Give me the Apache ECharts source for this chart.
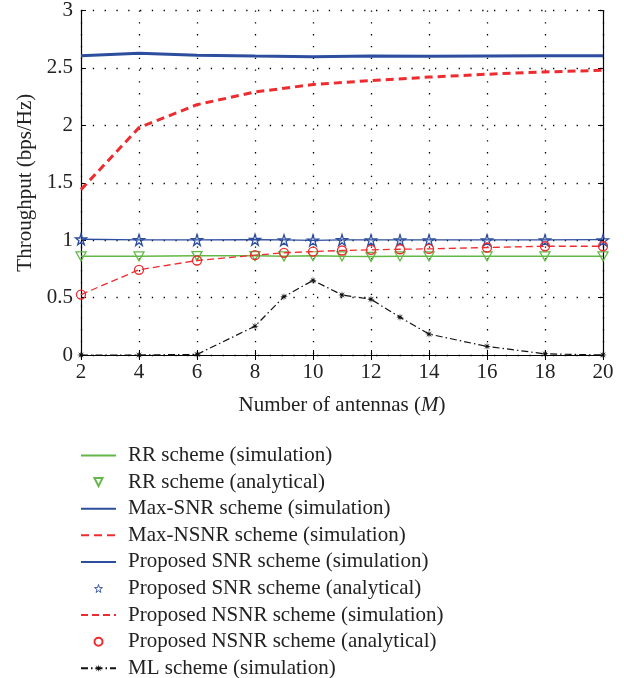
<!DOCTYPE html>
<html>
<head>
<meta charset="utf-8">
<script src="https://cdn.jsdelivr.net/npm/echarts@6/dist/echarts.min.js"></script>
<style>html,body{margin:0;padding:0;background:#fff;}#c{width:624px;height:678px;}</style>
</head>
<body>
<div id="c"></div>
<script>
// ---- data ----
var xTicks = [2, 4, 6, 8, 10, 12, 14, 16, 18, 20];
var yTicks = [0, 0.5, 1, 1.5, 2, 2.5, 3];
var xMarks = [2, 4, 6, 8, 9, 10, 11, 12, 13, 14, 16, 18, 20];
var xEven = [2, 4, 6, 8, 10, 12, 14, 16, 18, 20];

var rrSim        = [0.86, 0.86, 0.865, 0.865, 0.86, 0.865, 0.86, 0.857, 0.86, 0.86, 0.86, 0.86, 0.86];
var rrAna        = [0.858, 0.858, 0.862, 0.862, 0.858, 0.86, 0.858, 0.855, 0.858, 0.858, 0.858, 0.858, 0.858];
var maxSnrSim    = [2.607, 2.627, 2.611, 2.603, 2.598, 2.603, 2.601, 2.604, 2.605, 2.606];
var maxNsnrSim   = [1.44, 1.98, 2.18, 2.29, 2.355, 2.39, 2.42, 2.445, 2.465, 2.48];
var propSnrSim   = [1.008, 1.003, 1.002, 1.005, 1.002, 0.999, 1.003, 1.002, 1.002, 1.003, 1.003, 1.003, 1.004];
var propSnrAna   = [1.008, 1.002, 1.002, 1.004, 1.0, 0.998, 1.002, 1.0, 1.0, 1.0, 1.0, 1.0, 1.0];
var propNsnrSim  = [0.526, 0.742, 0.823, 0.869, 0.89, 0.901, 0.91, 0.916, 0.921, 0.924, 0.936, 0.947, 0.947];
var propNsnrAna  = [0.526, 0.742, 0.823, 0.869, 0.89, 0.901, 0.91, 0.916, 0.921, 0.924, 0.936, 0.947, 0.947];
var mlSim        = [0.0, 0.0, 0.005, 0.251, 0.508, 0.65, 0.523, 0.485, 0.329, 0.182, 0.075, 0.01, 0.0];

var names = [
  'RR scheme (simulation)',
  'RR scheme (analytical)',
  'Max-SNR scheme (simulation)',
  'Max-NSNR scheme (simulation)',
  'Proposed SNR scheme (simulation)',
  'Proposed SNR scheme (analytical)',
  'Proposed NSNR scheme (simulation)',
  'Proposed NSNR scheme (analytical)',
  'ML scheme (simulation)'
];

function pairs(xs, ys) { return xs.map(function (x, i) { return [x, ys[i]]; }); }

// ---- styles ----
var GREEN = '#62B846', BLUE = '#2D4E9E', RED = '#EE2B2E', BLACK = '#111';
var CLEAR = 'rgba(255,255,255,0)';
var FONT = 'Liberation Serif';
var FS = 21;
var starPath = 'path://M50,0 L61,35 L98,35 L68,57 L79,91 L50,70 L21,91 L32,57 L2,35 L39,35 Z';
var triPath = 'path://M0,0 L10,0 L5,9 Z';
var ast = (function () {
  var p = [];
  for (var i = 0; i < 16; i++) {
    var a = i * Math.PI / 8 - Math.PI / 2;
    var r = (i % 2) ? 1.6 : 5;
    p.push((i ? 'L' : 'M') + (5 + r * Math.cos(a)).toFixed(2) + ',' + (5 + r * Math.sin(a)).toFixed(2));
  }
  return 'path://' + p.join(' ') + ' Z';
})();

var noLine = { opacity: 0, width: 0 };
var hiddenItem = { color: CLEAR, borderWidth: 0, opacity: 0 };

var legendData = names.map(function (n, i) {
  return i === 5 ? { name: n, itemStyle: { color: CLEAR, borderColor: BLUE, borderWidth: 0.9 } } : { name: n };
});

var chart = echarts.init(document.getElementById('c'), null, { renderer: 'canvas' });
chart.setOption({
  animation: false,
  backgroundColor: '#fff',
  textStyle: { fontFamily: FONT },
  grid: { left: 81, right: 21, top: 9, height: 346, containLabel: false },
  xAxis: [{
    type: 'value', min: 2, max: 20, interval: 2,
    name: 'Number of antennas ({i|M})', nameLocation: 'middle', nameGap: 40,
    nameTextStyle: { fontFamily: FONT, fontSize: FS, color: '#222', rich: { i: { fontFamily: FONT, fontSize: FS, fontStyle: 'italic', color: '#222' } } },
    axisLine: { lineStyle: { color: '#000', width: 1.2 } },
    axisTick: { inside: true, length: 5, lineStyle: { color: '#000' } },
    axisLabel: { fontFamily: FONT, fontSize: FS, color: '#222', margin: 7 },
    splitLine: { show: true, lineStyle: { color: '#000', width: 1.3, type: [1.3, 10.5] } }
  }, {
    type: 'value', min: 2, max: 20, interval: 2, position: 'top',
    axisLine: { show: true, lineStyle: { color: '#000', width: 1.2 } },
    axisTick: { inside: true, length: 5, lineStyle: { color: '#000' } },
    axisLabel: { show: false }, splitLine: { show: false }
  }],
  yAxis: [{
    type: 'value', min: 0, max: 3, interval: 0.5,
    name: 'Throughput (bps/Hz)', nameLocation: 'middle', nameGap: 43, nameRotate: 90,
    nameTextStyle: { fontFamily: FONT, fontSize: FS, color: '#222' },
    axisLine: { show: true, lineStyle: { color: '#000', width: 1.2 } },
    axisTick: { show: true, inside: true, length: 5, lineStyle: { color: '#000' } },
    axisLabel: { fontFamily: FONT, fontSize: FS, color: '#222', margin: 8 },
    splitLine: { show: true, lineStyle: { color: '#000', width: 1.3, type: [1.3, 10.5] } }
  }, {
    type: 'value', min: 0, max: 3, interval: 0.5, position: 'right',
    axisLine: { show: true, lineStyle: { color: '#000', width: 1.2 } },
    axisTick: { show: true, inside: true, length: 5, lineStyle: { color: '#000' } },
    axisLabel: { show: false }, splitLine: { show: false }
  }],
  legend: {
    orient: 'vertical', left: 75, top: 440, height: 238, width: 540,
    itemWidth: 35, itemHeight: 10, itemGap: 5.6,
    textStyle: { fontFamily: FONT, fontSize: FS, lineHeight: 21, color: '#222', padding: [0, 0, 0, 7] },
    data: legendData
  },
  series: [
    { name: names[0], type: 'line', data: pairs(xMarks, rrSim), symbol: 'none',
      lineStyle: { color: GREEN, width: 1.5 }, itemStyle: hiddenItem, z: 2 },
    { name: names[1], type: 'line', data: pairs(xMarks, rrAna), symbol: triPath, symbolSize: [10, 9],
      showSymbol: true, lineStyle: noLine,
      itemStyle: { color: CLEAR, borderColor: GREEN, borderWidth: 1.3 }, z: 3 },
    { name: names[2], type: 'line', data: pairs(xEven, maxSnrSim), symbol: 'none',
      lineStyle: { color: BLUE, width: 3 }, itemStyle: hiddenItem, z: 2 },
    { name: names[3], type: 'line', data: pairs(xEven, maxNsnrSim), symbol: 'none',
      lineStyle: { color: RED, width: 3, type: [8, 5] }, itemStyle: hiddenItem, z: 2 },
    { name: names[4], type: 'line', data: pairs(xMarks, propSnrSim), symbol: 'none',
      lineStyle: { color: BLUE, width: 1.3 }, itemStyle: hiddenItem, z: 4 },
    { name: names[5], type: 'line', data: pairs(xMarks, propSnrAna), symbol: starPath, symbolSize: 11,
      showSymbol: true, lineStyle: noLine,
      itemStyle: { color: CLEAR, borderColor: BLUE, borderWidth: 1.3 }, z: 3 },
    { name: names[6], type: 'line', data: pairs(xMarks, propNsnrSim), symbol: 'none',
      lineStyle: { color: RED, width: 1.3, type: [7, 4] }, itemStyle: hiddenItem, z: 4 },
    { name: names[7], type: 'line', data: pairs(xMarks, propNsnrAna), symbol: 'circle', symbolSize: 9,
      showSymbol: true, lineStyle: noLine,
      itemStyle: { color: CLEAR, borderColor: RED, borderWidth: 1.3 }, z: 3 },
    { name: names[8], type: 'line', data: pairs(xMarks, mlSim), symbol: ast, symbolSize: 8,
      showSymbol: true,
      lineStyle: { color: BLACK, width: 1.2, type: [7, 3, 1.5, 3] }, itemStyle: { color: BLACK }, z: 5 }
  ]
});
</script>
</body>
</html>
